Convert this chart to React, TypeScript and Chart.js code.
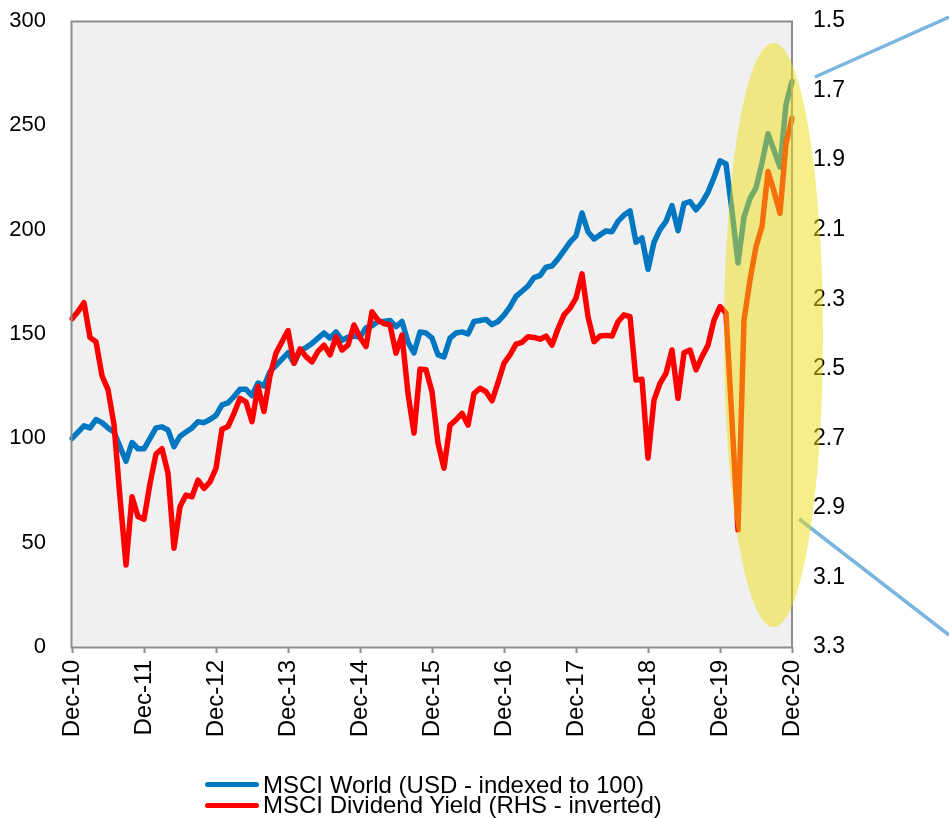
import React, { useEffect, useRef } from "react";
import { Chart, registerables } from "chart.js";

Chart.register(...registerables);

const FONT = "'Liberation Sans', Arial, Helvetica, sans-serif";

// Monthly categories Dec-10 .. Dec-20
const monthNames = ["Jan", "Feb", "Mar", "Apr", "May", "Jun", "Jul", "Aug", "Sep", "Oct", "Nov", "Dec"];
const years = ["11", "12", "13", "14", "15", "16", "17", "18", "19", "20"];
const categories: string[] = ["Dec-10"];
years.forEach((y) => monthNames.forEach((m) => categories.push(`${m}-${y}`)));

const xTickLabels = ["Dec-10", "Dec-11", "Dec-12", "Dec-13", "Dec-14", "Dec-15", "Dec-16", "Dec-17", "Dec-18", "Dec-19", "Dec-20"];
const leftTicks = [0, 50, 100, 150, 200, 250, 300];
const rightTicks = [1.5, 1.7, 1.9, 2.1, 2.3, 2.5, 2.7, 2.9, 3.1, 3.3];

const seriesNames = ["MSCI World (USD - indexed to 100)", "MSCI Dividend Yield (RHS - inverted)"];
const seriesColors = ["#0077C0", "#FF0000"];

// MSCI World, USD, indexed to 100 (left axis)
const msciWorld = [
  100, 103, 106, 105, 109, 107.5, 105, 103, 96, 89, 98, 95,
  95, 100, 105, 105.5, 104, 96, 101, 103, 105, 108, 107.5, 109,
  111, 116, 117, 120, 123.5, 123.5, 120.5, 126.5, 125, 132, 135, 138,
  141, 136, 142, 143.5, 145.5, 148, 150.5, 148, 151, 147, 148.5, 149,
  148.5, 153, 154, 156, 156, 156.5, 153.5, 156, 146, 141, 151, 150.5,
  148, 140, 139, 148, 150.5, 151, 150, 156, 156.5, 157, 154.5, 156,
  159, 163, 168, 170.5, 173, 177, 178, 182, 182.6, 186, 190, 194,
  197, 208, 199, 195.5, 197.5, 199.4, 199, 204, 207, 209, 194, 196,
  181, 194, 200, 204, 211.5, 199.5, 212.5, 213.5, 209.5, 213, 218, 225,
  233, 231.5, 209, 184, 206, 215, 220, 232, 246, 238, 230, 260,
  271,
];

// MSCI dividend yield, % (right axis, inverted)
const dividendYield = [
  2.356, 2.335, 2.31, 2.41, 2.422, 2.52, 2.56, 2.66, 2.87, 3.064, 2.868, 2.925,
  2.933, 2.83, 2.745, 2.73, 2.8, 3.016, 2.896, 2.863, 2.868, 2.82, 2.844, 2.825,
  2.786, 2.674, 2.666, 2.628, 2.585, 2.595, 2.652, 2.551, 2.623, 2.52, 2.455, 2.422,
  2.39, 2.484, 2.443, 2.465, 2.48, 2.45, 2.432, 2.46, 2.408, 2.446, 2.432, 2.374,
  2.41, 2.436, 2.336, 2.36, 2.37, 2.374, 2.455, 2.403, 2.571, 2.685, 2.501, 2.503,
  2.566, 2.714, 2.786, 2.662, 2.647, 2.628, 2.662, 2.571, 2.556, 2.566, 2.592, 2.54,
  2.484, 2.46, 2.429, 2.424, 2.408, 2.41, 2.415, 2.406, 2.432, 2.385, 2.345, 2.326,
  2.297, 2.227, 2.35, 2.422, 2.406, 2.404, 2.406, 2.365, 2.345, 2.35, 2.532, 2.53,
  2.757, 2.59, 2.542, 2.513, 2.446, 2.585, 2.454, 2.446, 2.503, 2.465, 2.432, 2.36,
  2.321, 2.34, 2.65, 2.963, 2.36, 2.245, 2.149, 2.091, 1.933, 1.99, 2.053, 1.852,
  1.78,
];

const decorPlugin = {
  id: "decor",
  beforeDraw(chart: any) {
    const { ctx, chartArea: a } = chart;
    ctx.save();
    ctx.fillStyle = "#F0F0F0";
    ctx.fillRect(a.left, a.top, a.right - a.left, a.bottom - a.top);
    ctx.restore();
  },
  afterDatasetsDraw(chart: any) {
    const { ctx, chartArea: a } = chart;
    ctx.save();
    ctx.strokeStyle = "#8C8C8C";
    ctx.lineWidth = 2;
    ctx.strokeRect(a.left - 0.5, a.top + 0.5, a.right - a.left + 0.5, a.bottom - a.top);
    ctx.restore();
  },
  afterDraw(chart: any) {
    const { ctx, chartArea: a, width } = chart;
    ctx.save();
    // callout lines
    ctx.strokeStyle = "rgb(122,182,222)";
    ctx.lineWidth = 3.5;
    ctx.beginPath();
    ctx.moveTo(a.right + 23, a.top + 56);
    ctx.lineTo(width, a.top - 4);
    ctx.moveTo(a.right + 7, a.top + 498);
    ctx.lineTo(width, a.top + 614);
    ctx.stroke();
    // highlight ellipse
    ctx.fillStyle = "rgba(235,222,20,0.5)";
    ctx.beginPath();
    ctx.ellipse(a.right - 18.5, a.top + 314, 49.5, 292, 0, 0, Math.PI * 2);
    ctx.fill();
    ctx.restore();
  },
};

const fixVertical = (w: number) => (s: any) => {
  s.width = w;
  s.paddingTop = 0;
  s.paddingBottom = 0;
};

export default function App() {
  const ref = useRef<HTMLCanvasElement>(null);

  useEffect(() => {
    if (!ref.current) return;
    const chart = new Chart(ref.current, {
      type: "line",
      data: {
        labels: categories,
        datasets: [
          {
            label: seriesNames[0],
            data: msciWorld,
            borderColor: seriesColors[0],
            backgroundColor: seriesColors[0],
            borderWidth: 5.5,
            pointRadius: 0,
            tension: 0,
            borderJoinStyle: "round",
            borderCapStyle: "round",
            yAxisID: "y",
            order: 1,
          },
          {
            label: seriesNames[1],
            data: dividendYield,
            borderColor: seriesColors[1],
            backgroundColor: seriesColors[1],
            borderWidth: 5.5,
            pointRadius: 0,
            tension: 0,
            borderJoinStyle: "round",
            borderCapStyle: "round",
            yAxisID: "y1",
            order: 0,
          },
        ],
      },
      options: {
        animation: false,
        responsive: false,
        layout: { padding: { top: 21, left: 0, right: 0, bottom: 0 } },
        plugins: { legend: { display: false }, tooltip: { enabled: false } },
        scales: {
          x: {
            type: "category",
            offset: false,
            border: { display: false },
            grid: {
              display: true,
              drawOnChartArea: false,
              drawTicks: true,
              tickLength: 6,
              tickWidth: 2,
              color: "rgba(0,0,0,0)",
              tickColor: (c: any) => (c.index % 12 === 0 ? "#8C8C8C" : "rgba(0,0,0,0)"),
            },
            ticks: {
              autoSkip: false,
              minRotation: 90,
              maxRotation: 90,
              padding: 7,
              color: "#000",
              font: { family: FONT, size: 24 },
              callback: (_v: any, i: number) => (i % 12 === 0 ? xTickLabels[i / 12] : ""),
            },
            afterFit: (s: any) => {
              s.height = 171;
            },
          },
          y: {
            position: "left",
            min: leftTicks[0],
            max: leftTicks[leftTicks.length - 1],
            border: { display: false },
            grid: { display: false, drawTicks: false },
            afterBuildTicks: (s: any) => {
              s.ticks = leftTicks.map((v) => ({ value: v }));
            },
            ticks: {
              padding: 26,
              color: "#000",
              font: { family: FONT, size: 22 },
            },
            afterFit: fixVertical(72),
          },
          y1: {
            position: "right",
            reverse: true,
            min: rightTicks[0],
            max: rightTicks[rightTicks.length - 1],
            border: { display: false },
            grid: { display: false, drawTicks: false },
            afterBuildTicks: (s: any) => {
              s.ticks = rightTicks.map((v) => ({ value: v }));
            },
            ticks: {
              padding: 21,
              color: "#000",
              font: { family: FONT, size: 23 },
              callback: (v: any) => Number(v).toFixed(1),
            },
            afterFit: fixVertical(157),
          },
        },
      },
      plugins: [decorPlugin],
    } as any);
    return () => chart.destroy();
  }, []);

  return (
    <div style={{ position: "absolute", left: 0, top: 0, width: 949, height: 818 }}>
      <canvas ref={ref} width={949} height={818} style={{ display: "block", width: 949, height: 818 }} />
      {seriesNames.map((name, i) => (
        <div
          key={name}
          style={{
            position: "absolute",
            left: 205,
            top: 774.5 + i * 20.5,
            height: 20,
            display: "flex",
            alignItems: "center",
            whiteSpace: "nowrap",
          }}
        >
          <span
            style={{
              display: "inline-block",
              width: 54,
              height: 5,
              borderRadius: 2.5,
              background: seriesColors[i],
              marginRight: 4,
            }}
          />
          <span style={{ fontFamily: FONT, fontSize: 24, lineHeight: "20px", color: "#000" }}>{name}</span>
        </div>
      ))}
    </div>
  );
}
